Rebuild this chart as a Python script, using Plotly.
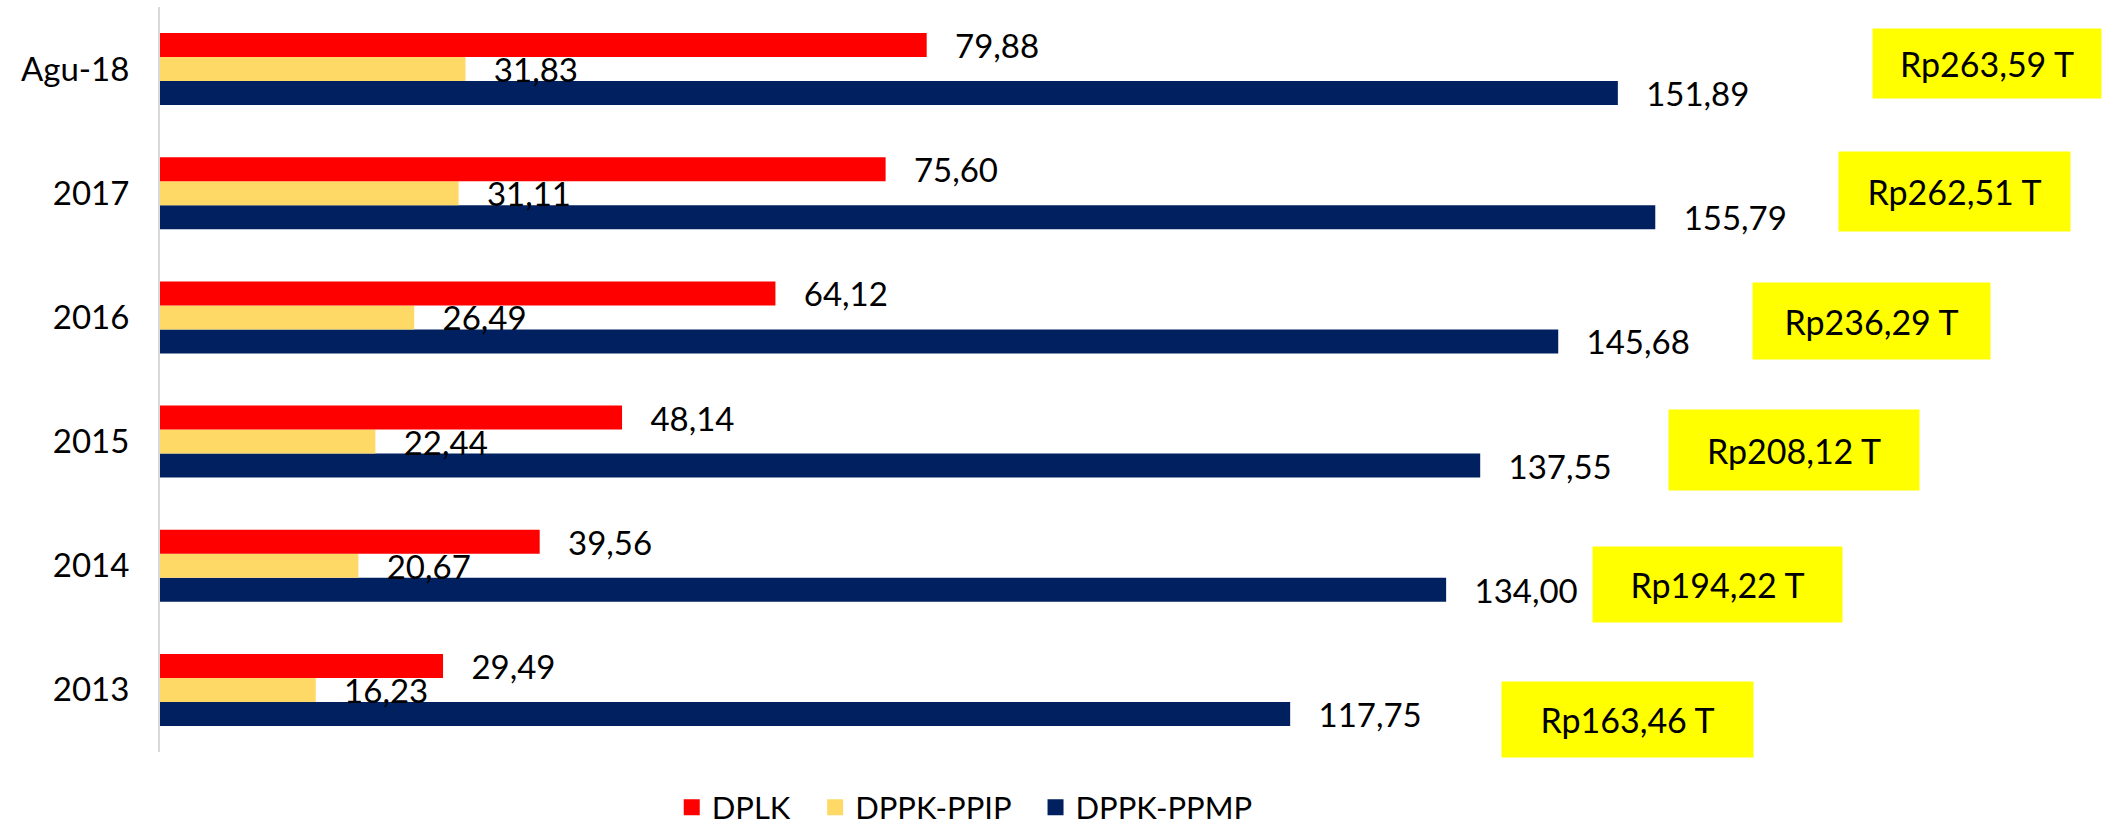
import plotly.graph_objects as go

# ---- data ----
categories = ["2013", "2014", "2015", "2016", "2017", "Agu-18"]
dplk = [29.49, 39.56, 48.14, 64.12, 75.60, 79.88]
dppk_ppip = [16.23, 20.67, 22.44, 26.49, 31.11, 31.83]
dppk_ppmp = [117.75, 134.00, 137.55, 145.68, 155.79, 151.89]
total_values = [163.46, 194.22, 208.12, 236.29, 262.51, 263.59]

series_names = ["DPLK", "DPPK-PPIP", "DPPK-PPMP"]
series_colors = ["#FF0000", "#FFD966", "#002060"]

# ---- layout helpers (positions of the yellow total boxes, not data) ----
box_x = [152.9, 162.3, 170.2, 178.3, 187.0, 190.3]
box_yshift = [-30, -19, -8, -4, 2, 5.5]
box_w = [249, 247, 248, 235, 229, 226]
box_h = [73, 73, 78, 74, 77, 67]

FONT = "Lato"
NB = "\u00a0"

fig = go.Figure()
# add bottom-to-top within each group: navy, yellow, red
for name, vals, color, pad in [
    (series_names[2], dppk_ppmp, series_colors[2], 3),
    (series_names[1], dppk_ppip, series_colors[1], 3),
    (series_names[0], dplk, series_colors[0], 3),
]:
    fig.add_trace(go.Bar(
        y=categories, x=vals, name=name, orientation="h",
        marker=dict(color=color, line=dict(width=0)),
        texttemplate=NB * pad + "%{x:.2f}",
        textposition="outside",
        constraintext="none",
        cliponaxis=False,
        textfont=dict(family=FONT, size=33, color="#000000"),
        hoverinfo="skip",
        showlegend=False,
    ))

# legend entries (square swatches)
legend_pad = [NB * 2 + "\u2009", NB * 2 + "\u2009", ""]
for name, color, pad in zip(series_names, series_colors, legend_pad):
    fig.add_trace(go.Scatter(
        x=[None], y=[None], mode="markers", name=name + pad,
        marker=dict(symbol="square", size=16, color=color),
        showlegend=True, hoverinfo="skip",
    ))

for i, cat in enumerate(categories):
    txt = "Rp" + f"{total_values[i]:.2f}".replace(".", ",") + " T"
    fig.add_annotation(
        x=box_x[i], y=i, xref="x", yref="y", yshift=box_yshift[i],
        text=txt, showarrow=False,
        bgcolor="#FFFF00", width=box_w[i], height=box_h[i],
        align="center", valign="middle",
        font=dict(family=FONT, size=34, color="#000000"),
    )

fig.update_layout(
    width=2118, height=829,
    margin=dict(l=160, r=0, t=7, b=77, autoexpand=False),
    paper_bgcolor="white", plot_bgcolor="white",
    barmode="group", bargap=0.42, bargroupgap=0,
    separators=",.",
    font=dict(family=FONT, size=33, color="#000000"),
    showlegend=True,
    legend=dict(
        orientation="h", traceorder="normal",
        x=0.411, xanchor="center", y=-0.111, yanchor="bottom",
        font=dict(family=FONT, size=31, color="#000000"),
        itemwidth=30, bgcolor="rgba(0,0,0,0)",
    ),
    xaxis=dict(visible=False, range=[0, 204], fixedrange=True),
    yaxis=dict(
        type="category", categoryorder="array", categoryarray=categories,
        range=[-0.5, len(categories) - 0.5], autorange=False,
        automargin=False, fixedrange=True,
        showline=True, linecolor="#D9D9D9", linewidth=2,
        showgrid=False, zeroline=False, ticks="",
        ticklabelstandoff=22,
        tickfont=dict(family=FONT, size=33, color="#000000"),
    ),
)

fig.write_html(
    "out.html",
    config={"displayModeBar": False},
    post_script="document.body.style.margin='0';document.body.style.overflow='hidden';",
)
